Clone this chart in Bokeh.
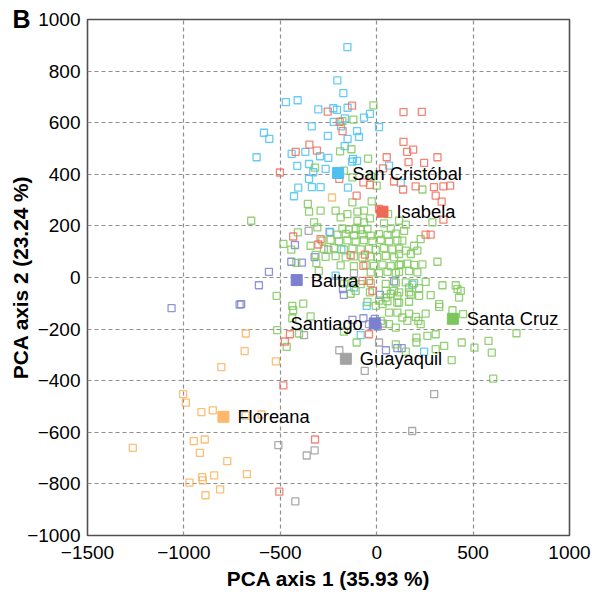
from bokeh.plotting import figure
from bokeh.models import FixedTicker, Range1d, ColumnDataSource, Title
from bokeh.core.properties import value
from bokeh.embed import file_html
from bokeh.resources import INLINE

# ---------------- data (PCA scores) ----------------
santa_cruz = [
    (-17, 667), (-121, 612), (-178, 606), (-190, 489), (-131, 497), (-45, 461), (-320, 426), (-170, 414),
    (-126, 388), (-28, 391), (0, 356), (237, 341), (-357, 285), (-351, 255), (-291, 259), (-325, 214),
    (-308, 194), (-343, 123), (-317, 88), (-313, 56), (-300, 26), (-651, 220), (-484, 130), (-443, 108),
    (-409, 175), (-417, 57), (-519, -71),
    (-26, 295), (-126, 291), (-213, 259), (-152, 246), (-100, 255), (-66, 259), (-187, 233), (-35, 229),
    (-100, 220), (-66, 214), (-178, 190), (-144, 186), (-109, 189), (-83, 185), (-48, 188), (73, 190),
    (-204, 166), (-161, 169), (-118, 163), (-74, 167), (-31, 162), (12, 168), (56, 165), (99, 170),
    (-282, 143), (-239, 146), (-196, 140), (-152, 144), (-109, 139), (-66, 145), (-22, 141), (21, 146),
    (64, 140), (107, 143),
    (-274, 111), (-222, 114), (-170, 108), (-126, 113), (-83, 109), (-40, 112), (-5, 107), (38, 114),
    (81, 109), (116, 112),
    (-265, 80), (-213, 83), (-161, 78), (-118, 82), (-74, 77), (-31, 81), (3, 79), (47, 84), (90, 78),
    (-187, 47), (-118, 44), (-57, 49), (-14, 45), (30, 50), (73, 44), (116, 48),
    (-31, 20), (12, 17), (56, 22), (99, 18),
    (-170, -24), (-126, -21), (-83, -26), (-31, -22), (47, -25), (99, -20),
    (-135, -63), (73, -63), (-48, -95), (56, -92), (107, -97),
    (289, 214), (228, 149), (133, 143), (194, 123), (151, 104), (211, 104), (116, 91), (177, 91),
    (315, 61), (125, 51), (159, 54), (194, 49), (237, 51), (116, 22), (168, 25), (211, 20),
    (254, -17), (341, -30), (410, -30), (151, -19), (194, -22), (116, -58), (168, -58), (220, -71),
    (280, -68), (324, -103), (419, -45), (436, -52), (168, -94), (116, -97),
    (59, 246), (142, 181), (151, 205), (116, 220), (38, 210),
    (-438, -110), (-433, -127), (-381, -101), (-438, -158), (-343, -151), (-516, -204), (-403, -217),
    (-467, -269), (-104, -252), (-170, -210), (-35, -58), (-5, -110), (-109, -52),
    (324, -114), (393, -127), (448, -142), (254, -140), (168, -140), (203, -153), (216, -168),
    (228, -181), (64, -136), (107, -136), (133, -155), (159, -168), (99, -194), (64, -181), (21, -168),
    (206, -233), (206, -252), (263, -226), (306, -220), (350, -265), (306, -278), (441, -252),
    (507, -272), (580, -246), (597, -291), (725, -216), (389, -320), (604, -392), (99, -259),
    (151, -287), (30, -103), (12, -90), (427, -78), (177, -67), (168, -39), (47, -78), (107, -71),
    (47, -52), (90, -52), (220, -41),
]

isabela = [
    (-128, 666), (-254, 643), (-192, 603), (-177, 567), (-349, 515), (-310, 492), (-420, 487),
    (139, 641), (234, 642), (139, 526), (158, 487), (189, 496), (52, 466), (315, 466), (246, 444),
    (165, 447), (33, 423), (90, 372), (137, 341), (202, 353), (297, 350), (346, 353), (381, 356),
    (306, 317), (337, 294), (346, 224), (254, 166), (280, 166), (-502, 407), (-194, 382), (-69, 369),
    (-35, 359), (-104, 317), (-433, 159), (-291, 149), (-303, 128), (-135, 87), (-61, 89), (-69, 45),
    (-74, -13), (-40, -13), (-22, -52), (-450, -220), (-476, -248), (-484, -418), (-505, -830),
    (-320, -628), (-40, -220), (12, 266),
]

san_cristobal = [
    (-152, 893), (-204, 764), (-173, 715), (-471, 680), (-410, 687), (-303, 652), (-225, 656),
    (-206, 650), (-151, 658), (-66, 620), (-35, 634), (-337, 586), (-223, 603), (-165, 617),
    (-185, 586), (-102, 567), (-92, 545), (-253, 549), (-151, 537), (-585, 561), (-557, 537),
    (-166, 509), (-294, 470), (-251, 464), (-441, 479), (-370, 487), (-623, 466), (12, 583),
    (-123, 460), (-351, 440), (-329, 408), (-351, 382), (-407, 348), (-429, 315), (-336, 350),
    (-291, 350), (-149, 348), (-128, 449), (-102, 452), (-242, 175), (-183, 110), (-265, 421),
    (-412, 433), (64, 434), (125, 367), (-213, 7), (-52, -110), (-83, -223), (246, -287),
    (185, -28), (-118, -39),
]

baltra_santiago = [
    (-244, 177), (-424, 126), (-322, 79), (-443, 61), (-388, 58), (-559, 22), (-611, -30),
    (-703, -103), (-1064, -119), (-711, -105), (-126, -164), (-69, -158), (-175, -45), (-170, -67),
    (48, -282), (107, -274), (130, -274), (90, -15), (17, -67), (-10, -160), (5, -190),
]

guayaquil = [
    (-353, 181), (-251, 108), (-118, 17), (-377, -223), (-194, -282), (-62, -362), (-40, -181),
    (12, -252), (33, -179), (298, -452), (184, -595), (-510, -650), (-422, -868), (-322, -670),
    (-363, -690),
]

floreana = [
    (-679, -217), (-685, -285), (-806, -347), (-523, -325), (-1004, -452), (-990, -485),
    (-909, -522), (-850, -515), (-680, -535), (-597, -531), (-1265, -660), (-949, -634),
    (-892, -628), (-917, -680), (-775, -712), (-673, -762), (-843, -767), (-905, -774),
    (-902, -786), (-971, -795), (-812, -821), (-888, -844), (-232, 310),
]

centroid_names = ["San Cristóbal", "Isabela", "Baltra", "Santiago", "Santa Cruz", "Guayaquil", "Floreana"]
centroid_x = [-200, 30, -415, -10, 395, -160, -795]
centroid_y = [405, 255, -10, -178, -160, -315, -540]

x_ticks = [-1500, -1000, -500, 0, 500, 1000]
y_ticks = [-1000, -800, -600, -400, -200, 0, 200, 400, 600, 800, 1000]

panel_letter = "B"

# ---------------- styling ----------------
FONT = "Liberation Sans"
group_colors = {
    "guayaquil": "#9c9c9c",
    "floreana": "#fdb35e",
    "baltra": "#7c82d4",
    "san_cristobal": "#4cc3f3",
    "santa_cruz": "#80c85e",
    "isabela": "#f2705d",
}
centroid_colors = ["#4cc0ef", "#f06a58", "#7b80cf", "#7b80cf", "#7cc65f", "#a3a3a3", "#fdb96b"]

p = figure(width=599, height=594, x_range=Range1d(-1500, 1000), y_range=Range1d(-1000, 1000),
           output_backend="svg", toolbar_location=None,
           min_border_left=87, min_border_right=30, min_border_top=19, min_border_bottom=59)
p.background_fill_color = "white"
p.border_fill_color = "white"
p.outline_line_color = "#505050"
p.outline_line_width = 1.6

# panel letter as a title sitting in the top-left margin
t = Title(text=panel_letter, align="left", vertical_align="bottom", offset=-75,
          text_font=FONT, text_font_style="bold", text_font_size="25px", text_color="black")
try:
    t.standoff = -26
except Exception:
    t.standoff = 0
p.add_layout(t, "above")

for ax in (p.xaxis, p.yaxis):
    ax.axis_line_color = None
    ax.major_tick_line_color = None
    ax.minor_tick_line_color = None
    ax.major_tick_out = 0
    ax.major_tick_in = 0
    ax.minor_tick_out = 0
    ax.minor_tick_in = 0
    ax.major_label_text_font = FONT
    ax.major_label_text_font_size = "19px"
    ax.major_label_text_color = "black"
    ax.axis_label_text_font = FONT
    ax.axis_label_text_font_style = "bold"
    ax.axis_label_text_font_size = "20.8px"
    ax.axis_label_text_color = "black"

p.xaxis.ticker = FixedTicker(ticks=x_ticks)
p.yaxis.ticker = FixedTicker(ticks=y_ticks)
p.xaxis.major_label_standoff = 10
p.yaxis.major_label_standoff = 7
p.xaxis.axis_label = "PCA axis 1 (35.93 %)"
p.yaxis.axis_label = "PCA axis 2 (23.24 %)"
p.xaxis.axis_label_standoff = 5
try:
    p.yaxis.axis_label_standoff = -8
except Exception:
    p.yaxis.axis_label_standoff = 0

p.xgrid.ticker = FixedTicker(ticks=x_ticks)
p.ygrid.ticker = FixedTicker(ticks=y_ticks)
for g in (p.xgrid, p.ygrid):
    g.grid_line_color = "#8f8f8f"
    g.grid_line_dash = "4 3"
    g.grid_line_width = 1.2

groups = [
    ("guayaquil", guayaquil),
    ("floreana", floreana),
    ("baltra", baltra_santiago),
    ("san_cristobal", san_cristobal),
    ("santa_cruz", santa_cruz),
    ("isabela", isabela),
]
for key, pts in groups:
    xs = [pt[0] for pt in pts]
    ys = [pt[1] for pt in pts]
    p.scatter(xs, ys, marker="square", size=7, fill_color=None,
              line_color=group_colors[key], line_width=1.3, line_alpha=0.85)

src = ColumnDataSource(dict(x=centroid_x, y=centroid_y, name=centroid_names, color=centroid_colors))
p.scatter("x", "y", source=src, marker="square", size=11, fill_color="color", line_color="color")

right_names = [n for n in centroid_names if n != "Santiago"]
rx = [centroid_x[i] for i, n in enumerate(centroid_names) if n != "Santiago"]
ry = [centroid_y[i] for i, n in enumerate(centroid_names) if n != "Santiago"]
p.text(rx, ry, text=right_names, x_offset=14, text_baseline="middle", text_align="left",
       text_font=value(FONT), text_font_size="18.3px", text_color="black")
si = centroid_names.index("Santiago")
p.text([centroid_x[si]], [centroid_y[si]], text=["Santiago"], x_offset=-12, text_baseline="middle",
       text_align="right", text_font=value(FONT), text_font_size="18.3px", text_color="black")

open("out.html", "w").write(file_html(p, INLINE))
